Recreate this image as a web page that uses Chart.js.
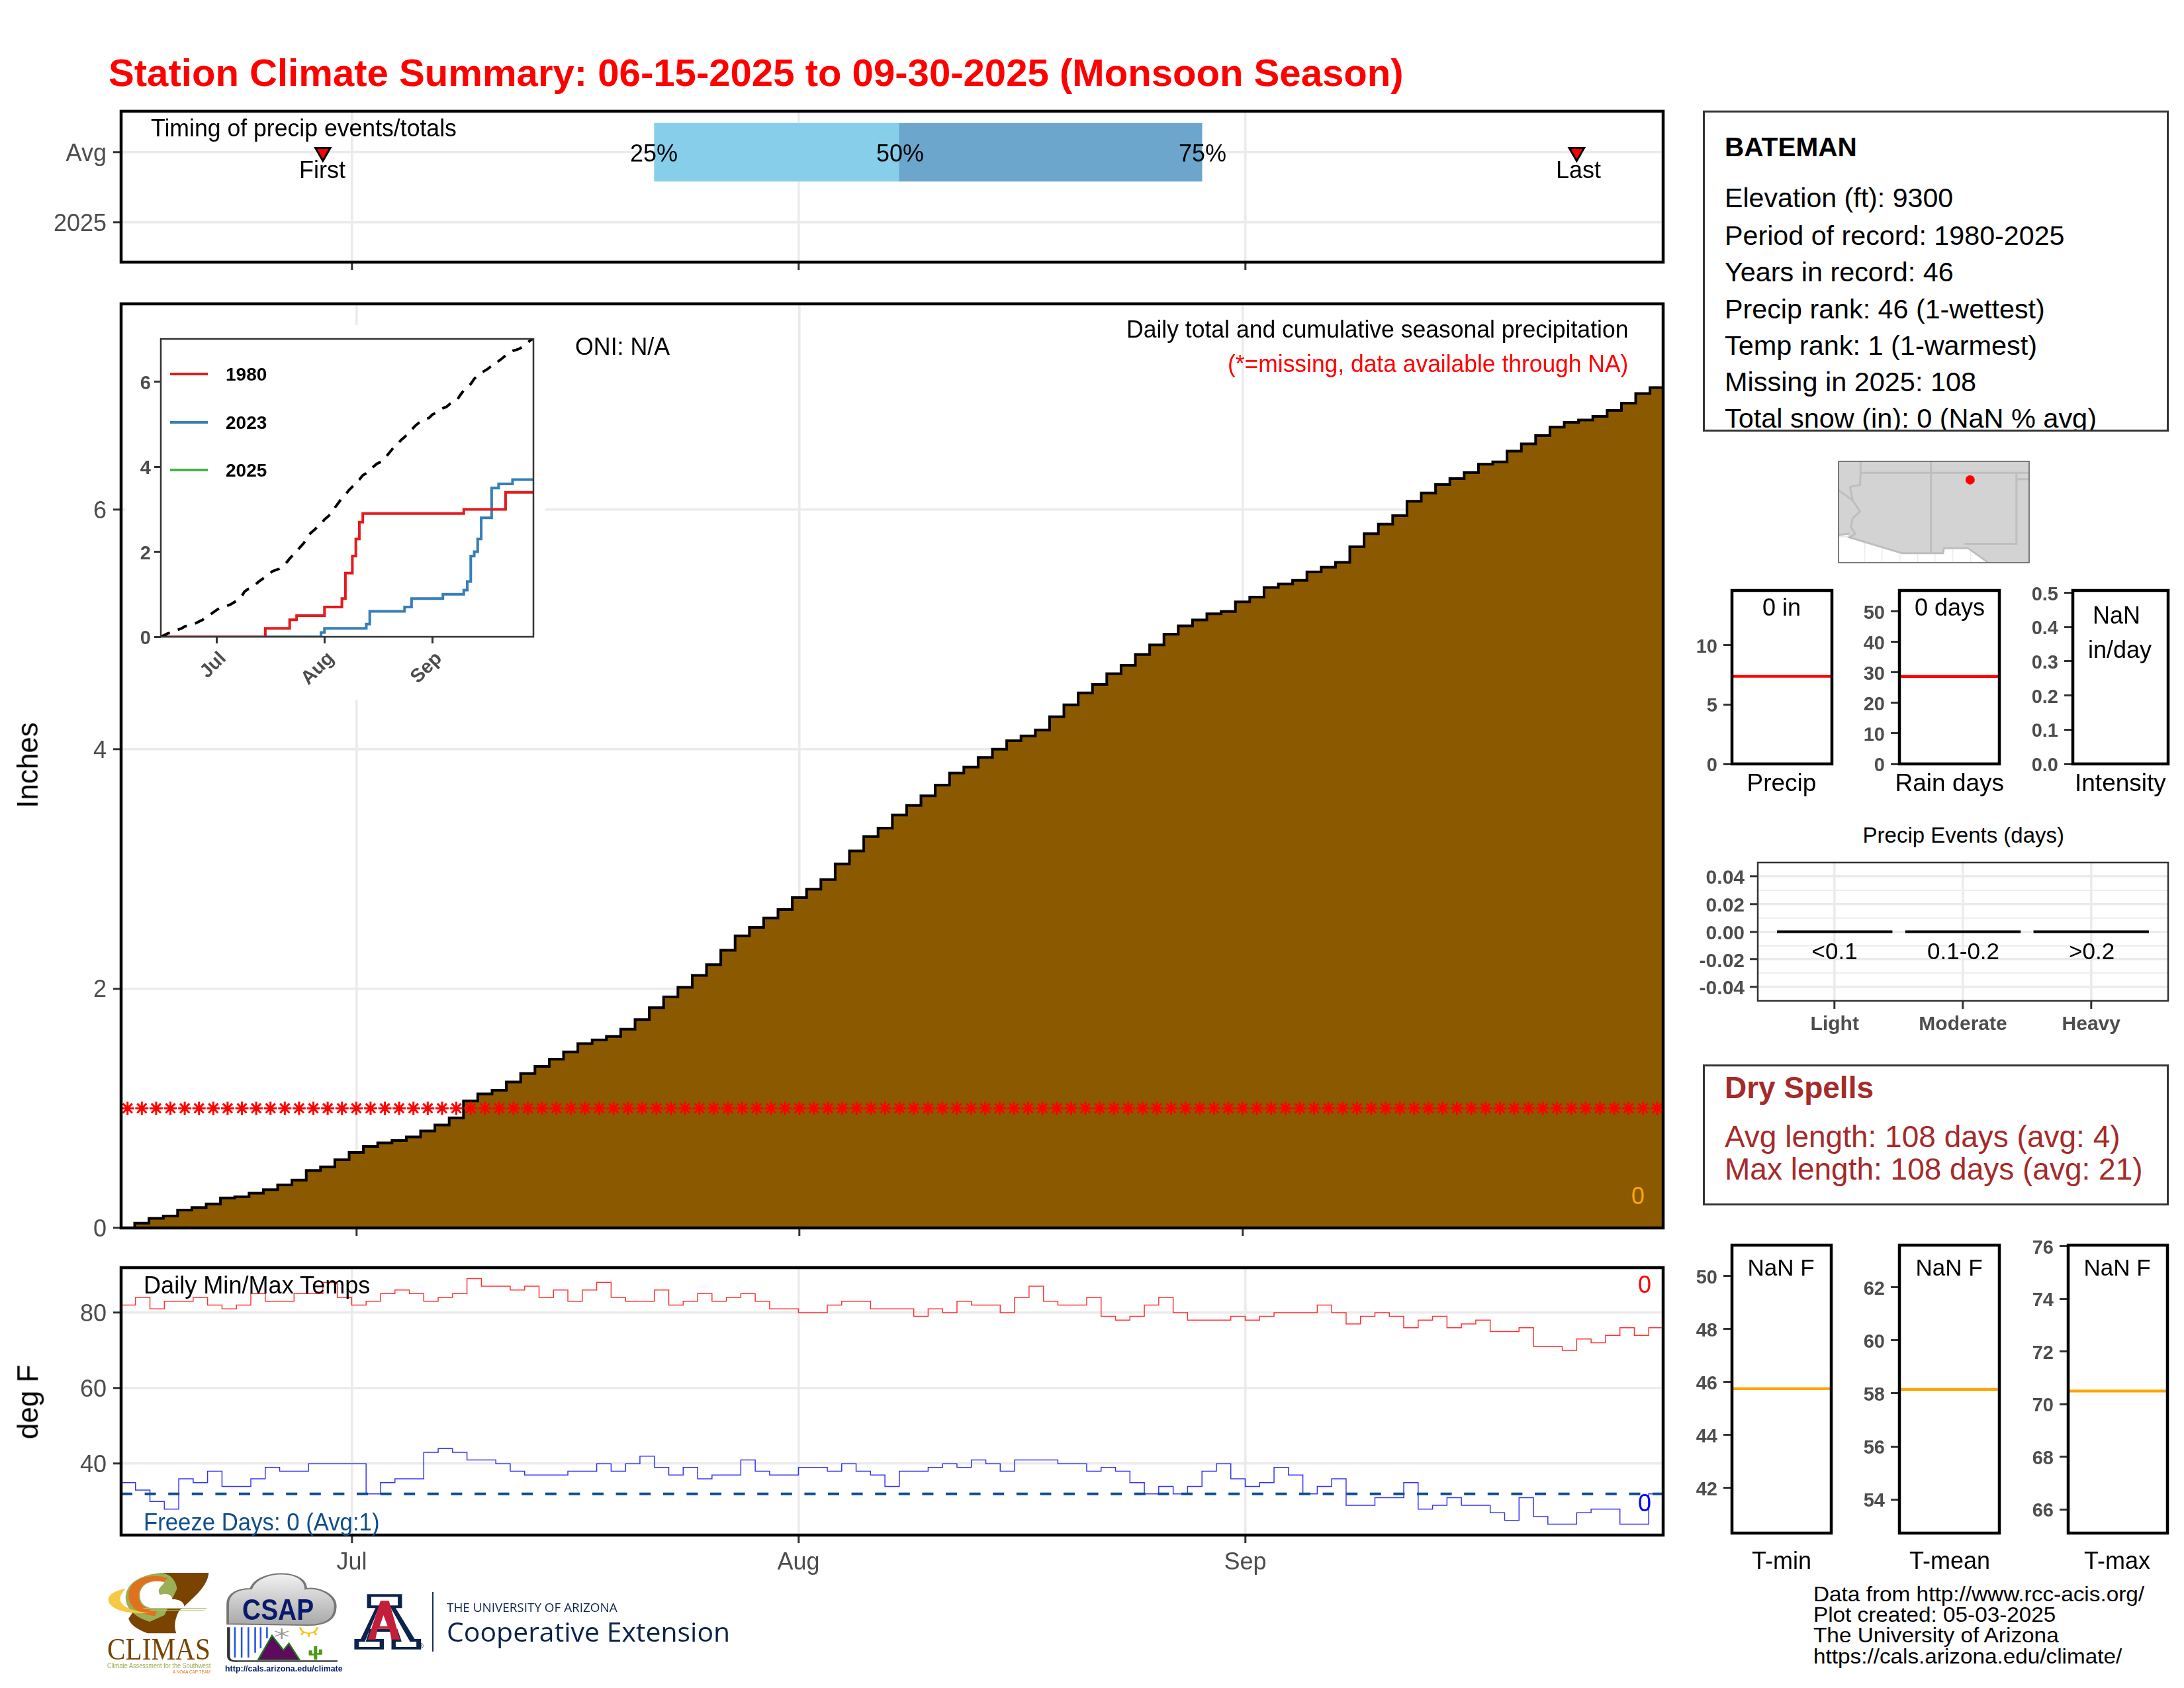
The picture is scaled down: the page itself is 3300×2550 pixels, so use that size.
<!DOCTYPE html>
<html>
<head>
<meta charset="utf-8">
<title>Station Climate Summary</title>
<script src="https://cdn.jsdelivr.net/npm/chart.js@4"></script>
<style>
html,body{margin:0;background:#fff}
#page{position:relative;width:3300px;height:2550px;overflow:hidden;font-family:"Liberation Sans",Arial,sans-serif}
canvas{position:absolute}
.lbl{position:absolute;white-space:nowrap;line-height:1}
.box{position:absolute;box-sizing:border-box;border:3px solid #333}
</style>
</head>
<body>
<div id="page"></div>
<script>
// Data. Day 0 is 06-15, day 107 is 09-30
const monthDays = [16, 47, 78];
const monthNames = ['Jul', 'Aug', 'Sep'];

const precipAvg = [
  0.00,0.04,0.08,0.10,0.15,0.17,0.20,0.25,0.26,0.29,
  0.32,0.36,0.40,0.48,0.51,0.57,0.63,0.68,0.71,0.73,
  0.76,0.81,0.86,0.92,1.06,1.12,1.15,1.22,1.29,1.35,
  1.41,1.47,1.54,1.57,1.60,1.66,1.74,1.84,1.93,2.01,
  2.11,2.20,2.32,2.44,2.51,2.59,2.66,2.76,2.83,2.91,
  3.04,3.15,3.27,3.34,3.45,3.53,3.61,3.70,3.80,3.85,
  3.93,4.00,4.07,4.11,4.16,4.27,4.37,4.47,4.54,4.63,
  4.70,4.79,4.87,4.96,5.03,5.08,5.13,5.15,5.23,5.27,
  5.35,5.38,5.41,5.48,5.52,5.56,5.69,5.80,5.88,5.95,
  6.07,6.14,6.21,6.26,6.31,6.38,6.40,6.49,6.55,6.62,
  6.69,6.73,6.75,6.78,6.83,6.89,6.97,7.02
];
const missingLevel = 1;

const tmax = [
  82,84,81,83,83,84,82,81,82,85,
  83,83,85,85,88,84,82,83,85,86,
  85,83,84,85,89,87,87,86,87,84,
  86,83,86,88,84,83,83,86,82,83,
  85,83,84,85,83,81,81,80,80,
  82,83,83,81,81,81,79,81,80,83,
  82,82,80,84,87,83,82,82,84,79,
  78,79,82,84,80,78,78,78,79,78,
  79,80,80,80,82,80,77,79,80,79,
  76,78,79,76,77,78,75,75,76,71,
  71,70,73,72,74,76,74,76,76
];
const tmin = [
  35,33,30,28,36,35,38,34,34,36,
  39,38,38,40,40,40,40,32,35,36,
  36,43,44,43,41,41,40,38,37,37,
  37,38,38,40,38,40,42,39,37,39,
  36,37,37,41,38,37,37,39,39,
  38,40,38,37,34,38,38,39,40,39,
  41,40,38,41,41,41,40,40,38,39,
  38,35,32,34,32,34,38,40,36,34,
  35,39,37,32,34,36,29,29,31,31,
  35,28,29,31,29,29,27,25,31,26,
  24,24,27,28,28,24,24,32,32
];
const freezeLine = 32;

// wettest / driest years in the inset: day where the total changes, and the total
const days1980 = [0,30,37,39,47,52,53,55,56,57,58,87,99,107];
const vals1980 = [0,0.2,0.4,0.5,0.7,0.9,1.5,1.9,2.3,2.7,2.9,3.0,3.4,3.4];
const days2023 = [0,46,47,59,60,70,72,81,87,88,89,90,91,92,95,97,101,107];
const vals2023 = [0,0.1,0.2,0.3,0.6,0.7,0.9,1.0,1.1,1.3,1.9,2.0,2.3,2.8,3.5,3.6,3.7,3.7];
const vals2025 = [];
const insetYears = ['1980', '2023', '2025'];
const insetColors = ['#E41A1C', '#377EB8', '#4DAF4A'];

// timing strip
const timingRows = [1, 2];
const timingNames = ['2025', 'Avg'];
const quartileDays = [37, 54, 75];
const firstLastDays = [14, 101];

// small panels
const precipTotalAvg = 7.37;
const rainDaysAvg = 28.7;
const tminAvg = 45.75;
const tmeanAvg = 58.15;
const tmaxAvg = 70.5;

const eventPos = [0, 1, 2];
const eventNames = ['Light', 'Moderate', 'Heavy'];
const eventRanges = ['<0.1', '0.1-0.2', '>0.2'];
const eventValues = [0, 0, 0];
const eventTicks = [-0.04,-0.03,-0.02,-0.01,0,0.01,0.02,0.03,0.04];
const eventTickNames = ['-0.04','','-0.02','','0.00','','0.02','','0.04'];

// locator map, lon/lat
const landLon = [-115.6,-102.1,-102.1,-105,-106.33,-108.14,-108.2,-111.09,-114.83,-114.95,-115.6];
const landLat = [37.8,37.8,30.67,30.67,31.7,31.7,31.33,31.33,32.45,32.7,32.6];
const azLon = [-114.04,-114.04,-114.08,-114.79,-114.6,-114.08,-114.6,-114.72,-114.42,-114.83,-111.09,-108.2,-108.14,-106.44,-105];
const azLat = [37.8,37,36.15,36,35.05,34.27,33.8,33.18,32.7,32.45,31.33,31.33,31.7,31.7,30.67];
const stateLines = [
  [[-115.6,35.78],[-114.6,35.05]],
  [[-115.6,32.6],[-114.83,32.72]],
  [[-109.05,37.8],[-109.05,31.33]],
  [[-114.04,37],[-102.1,37]],
  [[-103,37],[-103,32],[-106.67,32]],
  [[-103,36.55],[-102.1,36.55]]
];
const stationLon = -106.28;
const stationLat = 36.5;

Chart.defaults.font.family = '"Liberation Sans", Arial, sans-serif';
Chart.defaults.animation = false;
Chart.defaults.plugins.legend.display = false;
Chart.defaults.plugins.tooltip.enabled = false;

const page = document.getElementById('page');

// black frame around the plot area, on top of the data
Chart.register({
  id: 'frame',
  afterDatasetsDraw(chart, args, opts) {
    if (!opts.width) return;
    const a = chart.chartArea, ctx = chart.ctx;
    ctx.save();
    ctx.strokeStyle = opts.color;
    ctx.lineWidth = opts.width;
    ctx.strokeRect(a.left, a.top, a.right - a.left, a.bottom - a.top);
    ctx.restore();
  }
});

function noScalePadding(a) {
  a.paddingTop = a.paddingBottom = a.paddingLeft = a.paddingRight = 0;
}

// rect is the plot area on the page, m the room kept around it for ticks
function place(rect, m, config) {
  const c = document.createElement('canvas');
  c.width = rect[2] - rect[0] + m.l + m.r;
  c.height = rect[3] - rect[1] + m.t + m.b;
  c.style.left = (rect[0] - m.l) + 'px';
  c.style.top = (rect[1] - m.t) + 'px';
  page.appendChild(c);
  const s = config.options.scales;
  s.x.afterFit = a => { a.height = m.b; noScalePadding(a); };
  s.y.afterFit = a => { a.width = m.l; noScalePadding(a); };
  config.options.responsive = false;
  config.options.devicePixelRatio = 1;
  config.options.layout = {autoPadding: false, padding: {top: m.t, right: m.r, bottom: 0, left: 0}};
  return new Chart(c, config);
}

function axis(min, max, values, names, font, pad, extra) {
  return Object.assign({
    type: 'linear', min, max, offset: false,
    border: {display: false},
    grid: {offset: false, color: '#EBEBEB', lineWidth: 3.6, tickColor: '#333333', tickWidth: 3, tickLength: 12},
    afterBuildTicks: s => { s.ticks = values.map(v => ({value: v})); },
    ticks: {
      autoSkip: false, maxRotation: 0, color: '#4D4D4D', font, padding: pad,
      callback: v => names ? names[values.indexOf(v)] : v
    }
  }, extra || {});
}

// same as axis, tick text nudged down a little to sit on the tick
function yAxis(min, max, values, names, font, pad, extra) {
  const a = axis(min, max, values, names, font, pad, extra);
  a.ticks.labelOffset = 3;
  return a;
}

function label(text, x, y, size, o) {
  o = o || {};
  const el = document.createElement('div');
  el.className = 'lbl';
  el.textContent = text;
  el.style.fontSize = size + 'px';
  el.style.color = o.color || '#000';
  if (o.bold) el.style.fontWeight = 'bold';
  if (o.family) el.style.fontFamily = o.family;
  page.appendChild(el);
  const natural = el.offsetWidth;
  el.style.top = (y - size / 2 + 2) + 'px';
  if (o.rot) {
    el.style.left = (x - natural / 2) + 'px';
    el.style.transform = 'rotate(' + o.rot + 'deg)';
    return;
  }
  const sx = o.w ? o.w / natural : 1;
  const w = natural * sx;
  el.style.left = (o.anchor === 'c' ? x - w / 2 : o.anchor === 'r' ? x - w : x) + 'px';
  el.style.transformOrigin = 'left center';
  el.style.transform = 'scaleX(' + sx + ')';
}

function box(x0, y0, x1, y1) {
  const d = document.createElement('div');
  d.className = 'box';
  d.style.cssText = 'left:' + x0 + 'px;top:' + y0 + 'px;width:' + (x1 - x0) + 'px;height:' + (y1 - y0) + 'px';
  page.appendChild(d);
  return d;
}

function asPoints(values) {
  return values.map((v, i) => ({x: i, y: v}));
}
function zip(xs, ys) {
  return xs.map((x, i) => ({x, y: ys[i]}));
}

const tickFont = {size: 36};
const smallFont = {size: 29, weight: 'bold'};
const noNames = monthDays.map(() => '');

// ---- timing strip
place([183, 168, 2513, 396], {l: 170, r: 10, t: 10, b: 30}, {
  type: 'bar',
  data: {datasets: [
    {type: 'scatter', data: firstLastDays.map(d => ({x: d, y: timingRows[1]})), pointStyle: 'triangle', rotation: 180,
     radius: 13, backgroundColor: '#FF0000', borderColor: '#000', borderWidth: 3, order: 0},
    {type: 'bar', indexAxis: 'y', grouped: false, barThickness: 88, backgroundColor: '#87CEEB', order: 2,
     data: [{y: timingRows[1], x: [quartileDays[0], quartileDays[1]]}]},
    {type: 'bar', indexAxis: 'y', grouped: false, barThickness: 88, backgroundColor: '#6CA6CD', order: 1,
     data: [{y: timingRows[1], x: [quartileDays[1], quartileDays[2]]}]}
  ]},
  options: {
    plugins: {frame: {color: '#000', width: 4.5}},
    scales: {
      x: axis(0, 107, monthDays, noNames, tickFont, 4),
      y: yAxis(0.434, 2.585, timingRows, timingNames, tickFont, 10)
    }
  }
});

// ---- cumulative precipitation
const mainPoints = [{x: -1, y: 0}].concat(asPoints(precipAvg), [{x: 108, y: precipAvg[107]}]);
place([183, 459, 2513, 1855], {l: 170, r: 10, t: 10, b: 30}, {
  type: 'line',
  data: {datasets: [
    {data: precipAvg.map((v, i) => ({x: i, y: missingLevel})), showLine: false, pointStyle: 'star', radius: 10,
     borderColor: '#FF0000', borderWidth: 3, order: 0},
    {data: mainPoints, stepped: 'middle', fill: 'origin', backgroundColor: '#8B5A00', borderColor: '#000',
     borderWidth: 4, pointRadius: 0, order: 1}
  ]},
  options: {
    plugins: {frame: {color: '#000', width: 4.5}},
    scales: {
      x: axis(-0.45, 107.42, monthDays, noNames, tickFont, 4),
      y: yAxis(0, 7.72, [0, 2, 4, 6], null, tickFont, 10)
    }
  }
});

// white patch that sits behind the inset
const patch = document.createElement('div');
patch.style.cssText = 'position:absolute;left:189px;top:491px;width:635px;height:566px;background:#fff';
page.appendChild(patch);

// ---- inset
const insetX = axis(0, 107, monthDays, monthNames, smallFont, 6, {
  grid: {drawOnChartArea: false, tickColor: '#333333', tickWidth: 3, tickLength: 10}
});
insetX.ticks.minRotation = 45;
insetX.ticks.maxRotation = 45;
insetX.ticks.labelOffset = 10;
place([243, 512, 806, 962], {l: 50, r: 10, t: 10, b: 90}, {
  type: 'line',
  data: {datasets: [
    {data: asPoints(precipAvg), borderColor: '#000', borderWidth: 4, borderDash: [15, 13], pointRadius: 0},
    {data: zip(days1980, vals1980), stepped: 'before', borderColor: insetColors[0], borderWidth: 4, pointRadius: 0},
    {data: zip(days2023, vals2023), stepped: 'before', borderColor: insetColors[1], borderWidth: 4, pointRadius: 0},
    {data: vals2025, borderColor: insetColors[2], borderWidth: 4, pointRadius: 0}
  ]},
  options: {
    plugins: {frame: {color: '#333333', width: 2.5}},
    scales: {
      x: insetX,
      y: yAxis(0, 7.01, [0, 2, 4, 6], null, smallFont, 5, {
        grid: {drawOnChartArea: false, tickColor: '#333333', tickWidth: 3, tickLength: 10}
      })
    }
  }
});

// ---- daily temperatures
place([183, 1915, 2513, 2319], {l: 170, r: 10, t: 10, b: 80}, {
  type: 'line',
  data: {datasets: [
    {data: zip([0, 107], [freezeLine, freezeLine]), borderColor: '#104E8B', borderWidth: 4, borderDash: [17, 18.6], pointRadius: 0},
    {data: asPoints(tmax), stepped: 'before', borderColor: 'rgba(255,0,0,0.8)', borderWidth: 1.5, pointRadius: 0},
    {data: asPoints(tmin), stepped: 'before', borderColor: 'rgba(0,0,255,0.8)', borderWidth: 1.5, pointRadius: 0}
  ]},
  options: {
    plugins: {frame: {color: '#000', width: 4.5}},
    scales: {
      x: axis(0, 107, monthDays, monthNames, tickFont, 8),
      y: yAxis(21.1, 91.9, [40, 60, 80], null, tickFont, 10)
    }
  }
});

// ---- small side panels: one reference line each
function sidePanel(rect, ymin, ymax, ticks, decimals, avg, color) {
  const names = ticks.map(t => t.toFixed(decimals));
  place(rect, {l: 80, r: 6, t: 24, b: 24}, {
    type: 'line',
    data: {datasets: [
      {data: avg === null ? [] : zip([0, 1], [avg, avg]), borderColor: color, borderWidth: 4.2, pointRadius: 0}
    ]},
    options: {
      plugins: {frame: {color: '#000', width: 4.5}},
      scales: {
        x: {type: 'linear', min: 0, max: 1, display: false},
        y: yAxis(ymin, ymax, ticks, names, smallFont, 9, {
          grid: {drawOnChartArea: false, tickColor: '#333333', tickWidth: 3, tickLength: 13}
        })
      }
    }
  });
}
sidePanel([2617, 892, 2768, 1154], 0, 14.6, [0, 5, 10], 0, precipTotalAvg, '#FF0000');
sidePanel([2870, 892, 3021, 1154], 0, 56.9, [0, 10, 20, 30, 40, 50], 0, rainDaysAvg, '#FF0000');
sidePanel([3132, 892, 3276, 1154], 0, 0.507, [0, 0.1, 0.2, 0.3, 0.4, 0.5], 1, null, '#FF0000');
sidePanel([2617, 1881, 2767, 2316], 40.3, 51.17, [42, 44, 46, 48, 50], 0, tminAvg, '#FFA500');
sidePanel([2870, 1881, 3021, 2316], 52.73, 63.59, [54, 56, 58, 60, 62], 0, tmeanAvg, '#FFA500');
sidePanel([3125, 1881, 3275, 2316], 65.1, 76.04, [66, 68, 70, 72, 74, 76], 0, tmaxAvg, '#FFA500');

// ---- precip events
place([2656, 1303, 3276, 1512], {l: 110, r: 6, t: 6, b: 60}, {
  type: 'bar',
  data: {datasets: [
    {data: zip(eventPos, eventValues), backgroundColor: '#000', minBarLength: 4, barPercentage: 0.9, categoryPercentage: 1}
  ]},
  options: {
    plugins: {frame: {color: '#333333', width: 2.5}},
    scales: {
      x: axis(-0.6, 2.6, eventPos, eventNames, {size: 30, weight: 'bold'}, 6),
      y: yAxis(-0.05, 0.05, eventTicks, eventTickNames, {size: 30, weight: 'bold'}, 8, {
        grid: {
          offset: false, color: '#EBEBEB', tickLength: 12, tickWidth: 3,
          lineWidth: c => eventTickNames[eventTicks.indexOf(c.tick.value)] ? 3.6 : 1.8,
          tickColor: c => eventTickNames[eventTicks.indexOf(c.tick.value)] ? '#333333' : 'rgba(0,0,0,0)'
        }
      })
    }
  }
});

// ---- locator map
place([2778, 697, 3066, 850], {l: 2, r: 2, t: 2, b: 2}, {
  type: 'scatter',
  data: {datasets: [
    {data: [{x: stationLon, y: stationLat}], radius: 7, backgroundColor: '#FF0000', borderWidth: 0, order: 0},
    {data: zip(azLon, azLat), showLine: true, borderColor: '#BEBEBE', borderWidth: 3, pointRadius: 0, order: 1}
  ].concat(stateLines.map(seg => ({
    data: seg.map(p => ({x: p[0], y: p[1]})), showLine: true, borderColor: '#BEBEBE', borderWidth: 3, pointRadius: 0, order: 1
  })), [
    {data: zip(landLon, landLat), showLine: true, fill: 'shape', backgroundColor: '#D3D3D3', borderWidth: 0, pointRadius: 0, order: 2}
  ])},
  options: {
    plugins: {frame: {color: '#555555', width: 1.5}},
    scales: {
      x: {type: 'linear', min: -115.6, max: -102.1, display: true, border: {display: false},
          grid: {color: '#EBEBEB', lineWidth: 1.5, drawTicks: false}, ticks: {display: false, stepSize: 1.25}},
      y: {type: 'linear', min: 30.67, max: 37.8, display: true, border: {display: false},
          grid: {color: '#EBEBEB', lineWidth: 1.5, drawTicks: false}, ticks: {display: false, stepSize: 1.25}}
    }
  }
});

// ---- text
label('Station Climate Summary: 06-15-2025 to 09-30-2025 (Monsoon Season)', 164, 108, 57, {bold: true, color: '#FF0000', w: 1957});
label('Timing of precip events/totals', 228, 192, 36, {w: 462});
label('First', 487, 255, 36, {anchor: 'c'});
label('Last', 2385, 255, 36, {anchor: 'c'});
label('25%', 988, 230, 36, {anchor: 'c'});
label('50%', 1360, 230, 36, {anchor: 'c'});
label('75%', 1817, 230, 36, {anchor: 'c'});

label('Inches', 42, 1154, 44, {rot: -90});
label('ONI: N/A', 869, 522, 36, {w: 143});
label('Daily total and cumulative seasonal precipitation', 1702, 496, 36, {w: 758});
label('(*=missing, data available through NA)', 1855, 548, 36, {w: 605, color: '#FF0000'});
label('0', 2475, 1805, 36, {anchor: 'c', color: '#FFA500'});

// inset legend
insetYears.forEach((year, i) => {
  const y = [565, 637.5, 709.6][i];
  const line = document.createElement('div');
  line.style.cssText = 'position:absolute;left:257px;width:57px;height:4px;top:' + (y - 2) + 'px;background:' + insetColors[i];
  page.appendChild(line);
  label(year, 341, y - 1, 28, {bold: true});
});

label('deg F', 42, 2116, 44, {rot: -90});
label('Daily Min/Max Temps', 217, 1940, 36, {w: 342});
label('Freeze Days: 0 (Avg:1)', 217, 2298, 36, {w: 356, color: '#104E8B'});
label('0', 2485, 1939, 36, {anchor: 'c', color: '#FF0000'});
label('0', 2485, 2269, 36, {anchor: 'c', color: '#0000FF'});

// station box
label('BATEMAN', 2606, 220, 41, {bold: true, w: 200});
label('Elevation (ft): 9300', 2606, 297, 41, {w: 345});
label('Period of record: 1980-2025', 2606, 354, 41, {w: 514});
label('Years in record: 46', 2606, 409, 41, {w: 346});
label('Precip rank: 46 (1-wettest)', 2606, 465, 41, {w: 484});
label('Temp rank: 1 (1-warmest)', 2606, 520, 41, {w: 472});
label('Missing in 2025: 108', 2606, 575, 41, {w: 380});
label('Total snow (in): 0 (NaN % avg)', 2606, 630, 41, {w: 562});
const strip = document.createElement('div');
strip.style.cssText = 'position:absolute;left:2573px;top:651px;width:704px;height:16px;background:#fff';
page.appendChild(strip);
box(2573, 167, 3277, 652);

label('0 in', 2692, 916, 36, {anchor: 'c'});
label('0 days', 2946, 916, 36, {anchor: 'c'});
label('NaN', 3198, 928, 36, {anchor: 'c'});
label('in/day', 3203, 980, 36, {anchor: 'c'});
label('Precip', 2692, 1180, 37, {anchor: 'c'});
label('Rain days', 2946, 1180, 37, {anchor: 'c'});
label('Intensity', 3204, 1180, 37, {anchor: 'c'});

label('Precip Events (days)', 2966.6, 1259, 33, {anchor: 'c'});
eventRanges.forEach((r, i) => label(r, [2772, 2966.6, 3160.5][i], 1434, 35, {anchor: 'c'}));

box(2573, 1608, 3277, 1821);
label('Dry Spells', 2606, 1641, 46, {bold: true, color: '#A52A2A'});
label('Avg length: 108 days (avg: 4)', 2606, 1715, 46, {color: '#A52A2A'});
label('Max length: 108 days (avg: 21)', 2606, 1764, 46, {color: '#A52A2A'});

label('NaN F', 2691, 1912.5, 35, {anchor: 'c'});
label('NaN F', 2945, 1912.5, 35, {anchor: 'c'});
label('NaN F', 3199, 1912.5, 35, {anchor: 'c'});
label('T-min', 2692, 2356, 36, {anchor: 'c'});
label('T-mean', 2946, 2356, 36, {anchor: 'c'});
label('T-max', 3199, 2356, 36, {anchor: 'c'});

label('Data from http://www.rcc-acis.org/', 2740, 2406, 32, {w: 500});
label('Plot created: 05-03-2025', 2740, 2437, 32, {w: 366});
label('The University of Arizona', 2740, 2468, 32, {w: 371});
label('https://cals.arizona.edu/climate/', 2740, 2500, 32, {w: 466});

// ---- logos, rough drawings with real text on top
const logos = document.createElement('div');
logos.innerHTML = `<svg xmlns="http://www.w3.org/2000/svg" style="position:absolute;left:140px;top:2350px" width="1000" height="200" viewBox="0 0 1568 600" preserveAspectRatio="none">
<defs><linearGradient id="cl" x1="0" y1="0" x2="0" y2="1"><stop offset="0" stop-color="#F2F2F2"/><stop offset="1" stop-color="#A8A8A8"/></linearGradient></defs>
<path d="M160 78H275C272 140 240 190 205 250C195 285 192 320 198 352H130C105 335 88 310 85 285Z" fill="#7A4300"/>
<path d="M165 78C110 85 78 130 78 190C78 240 100 280 135 300L170 270L200 150C195 100 180 85 165 78Z" fill="#9BAF55"/>
<path d="M172 112C130 88 97 125 97 180C97 225 115 255 150 262" fill="none" stroke="#E2711D" stroke-width="24"/>
<path d="M170 120C130 105 112 140 112 180C112 215 122 232 140 238H215C222 215 205 195 188 198C190 180 175 165 160 178C150 150 165 140 170 120Z" fill="#fff"/>
<path d="M78 150C30 165 25 215 60 245C85 262 110 262 135 260C80 250 45 215 78 150Z" fill="#F6C945"/>
<path d="M120 240H270M135 250H265" stroke="#B6C27A" stroke-width="4" fill="none"/>
<path d="M320 310V220C320 170 345 150 375 150C385 100 425 75 465 85C495 95 505 125 505 150C535 140 575 175 575 230C575 285 555 315 510 315Z" fill="url(#cl)" stroke="#777" stroke-width="6"/>
<path d="M337 325V462M353 325V462M369 325V462M385 325V440M398 325V420M413 325V375" stroke="#2255DD" stroke-width="4"/>
<path d="M322 325V455Q322 482 345 478H580" stroke="#333" stroke-width="7" fill="none"/>
<path d="M392 472L425 362L452 428L465 398L490 472Z" fill="#5E0A5E" stroke="#1A7A1A" stroke-width="4"/>
<path d="M448 330V378M432 342L464 366M432 366L464 342" stroke="#999" stroke-width="4"/>
<path d="M492 325A20 26 0 0 0 532 325M500 345L494 360M512 352V368M524 345L530 360" stroke="#F5C518" stroke-width="5" fill="none"/>
<path d="M528 472V410M516 430V448H528M540 425V445H528" stroke="#4C9A1A" stroke-width="8" fill="none"/>
<path d="M650 175H733V238H718L763 378H778V425H708V378H722L714 345H665L656 378H690V425H620V378H635L670 238H650Z" fill="#0C234B"/>
<path d="M660 187H723V226H703L752 390H767V414H718V390H732L722 333H657L647 390H680V414H631V390H645L680 226H660Z" fill="#fff"/>
<path d="M682 205H702L728 380H708L703 332H675L670 380H652ZM689 270L680 320H699Z" fill="#C41E3A" fill-rule="evenodd"/>
<path d="M806 165V435" stroke="#0C234B" stroke-width="3"/>
</svg>`;
page.appendChild(logos);
label('CLIMAS', 162, 2490, 46, {family: '"Liberation Serif"', color: '#7A4300', w: 156});
label('Climate Assessment for the Southwest', 162, 2515, 10, {color: '#9BAF55', w: 156});
label('A NOAA CAP TEAM', 318, 2523, 7, {color: '#E2711D', anchor: 'r', w: 57});
label('CSAP', 366, 2430, 44, {bold: true, color: '#0A1A6B', w: 108});
label('http://cals.arizona.edu/climate', 340, 2518, 13, {bold: true, color: '#0A1A6B', w: 178});
label('\u00AE', 636, 2485, 10, {color: '#0C234B', anchor: 'c'});
label('THE UNIVERSITY OF ARIZONA', 675, 2426, 18, {color: '#0C234B', w: 258, family: '"Open Sans"'});
label('Cooperative Extension', 675, 2463, 40, {color: '#0C234B', w: 428, family: '"Open Sans"'});
</script>
</body>
</html>
